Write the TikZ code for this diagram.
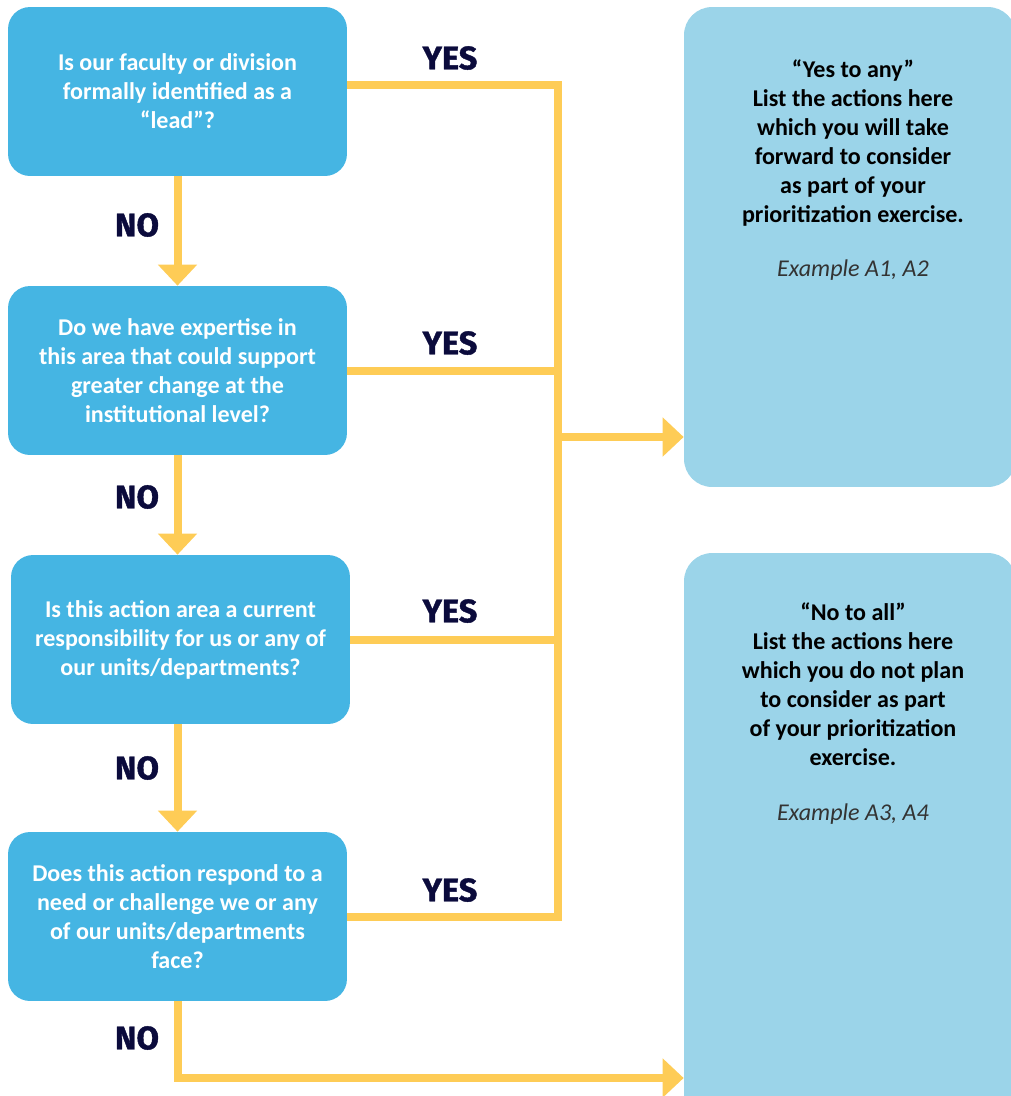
\documentclass[tikz,border=0pt]{standalone}
\usepackage{fontspec}
\usepackage{xcolor}
\usepackage{tikz}
\usetikzlibrary{arrows.meta}
\setmainfont{Carlito}
\newfontfamily\heavyfont{Fira Sans}[FakeBold=1.2]

\definecolor{qblue}{HTML}{45B5E3}
\definecolor{oblue}{HTML}{9BD4E9}
\definecolor{flow}{HTML}{FECC56}
\definecolor{navy}{HTML}{0B0B3C}

\begin{document}
\begin{tikzpicture}[x=0.02cm, y=-0.02cm,
    question/.style={fill=qblue, rounded corners=0.44cm, minimum width=6.78cm,
        minimum height=3.38cm, align=center, text=white,
        font=\bfseries\fontsize{13.7}{16.5}\selectfont},
    outcome/.style={fill=oblue, rounded corners=0.56cm, minimum width=6.64cm},
    outtext/.style={align=center, anchor=north,
        font=\bfseries\fontsize{13.7}{16.5}\selectfont},
    example/.style={text=black!80, font=\itshape\fontsize{13.7}{16.5}\selectfont},
    answer/.style={text=navy, font=\heavyfont\bfseries\fontsize{18.5}{18.5}\selectfont},
    link/.style={draw=flow, line width=0.16cm, line join=miter},
    tip/.style={-{Triangle[width=0.76cm, length=0.42cm]}}]
            \useasboundingbox (0,0) rectangle (1011,1096);
            \clip (0,0) rectangle (1011,1096);

            % outcome boxes on the right
            \node[outcome, minimum height=9.6cm] (yesbox) at (850, 247) {};
            \node[outtext] (yestext) at (853, 54) {“Yes to any”\\List the actions here\\which you will take\\forward to consider\\as part of your\\prioritization exercise.};
            \node[example] (yesex) at (853, 270) {Example A1, A2};

            \node[outcome, minimum height=11.54cm] (noallbox) at (850, 841.5) {};
            \node[outtext] (noalltext) at (853, 597) {“No to all”\\List the actions here\\which you do not plan\\to consider as part\\of your prioritization\\exercise.};
            \node[example] (noallex) at (853, 814) {Example A3, A4};

            % questions
            \node[question] (q1) at (177.5, 91.5) {Is our faculty or division\\formally identified as a\\“lead”?};
            \node[question] (q2) at (177.5, 370.5) {Do we have expertise in\\this area that could support\\greater change at the\\institutional level?};
            \node[question] (q3) at (180.5, 639.5) {Is this action area a current\\responsibility for us or any of\\our units/departments?};
            \node[question] (q4) at (177.5, 916.5) {Does this action respond to a\\need or challenge we or any\\of our units/departments\\face?};

            \coordinate (spine) at (558, 437);
            \coordinate (nobend) at (178, 1078);

            % yes branches
            \draw[link] ([yshift=0.13cm]q1.east) -| (q4.east -| spine) -- (q4.east);
            \draw[link] (q2.east) -- (q2.east -| spine);
            \draw[link] (q3.east) -- (q3.east -| spine);
            \draw[link, tip] (spine) -- (spine -| yesbox.west);

            % no branches
            \draw[link, tip] (q1.south) -- (q1.south |- q2.north);
            \draw[link, tip] (q2.south) -- (q2.south |- q3.north);
            \draw[link, tip] (q3.south -| q2.south) -- (q2.south |- q4.north);
            \draw[link, tip] (q4.south) |- (nobend -| noallbox.west);

            \node[answer] (yes1) at (450, 58) {YES};
            \node[answer] (yes2) at (450, 343) {YES};
            \node[answer] (yes3) at (450, 611) {YES};
            \node[answer] (yes4) at (450, 890) {YES};
            \node[answer] (no1) at (137, 225) {NO};
            \node[answer] (no2) at (137, 497) {NO};
            \node[answer] (no3) at (137, 768) {NO};
            \node[answer] (no4) at (137, 1038) {NO};
        \end{tikzpicture}
\end{document}
